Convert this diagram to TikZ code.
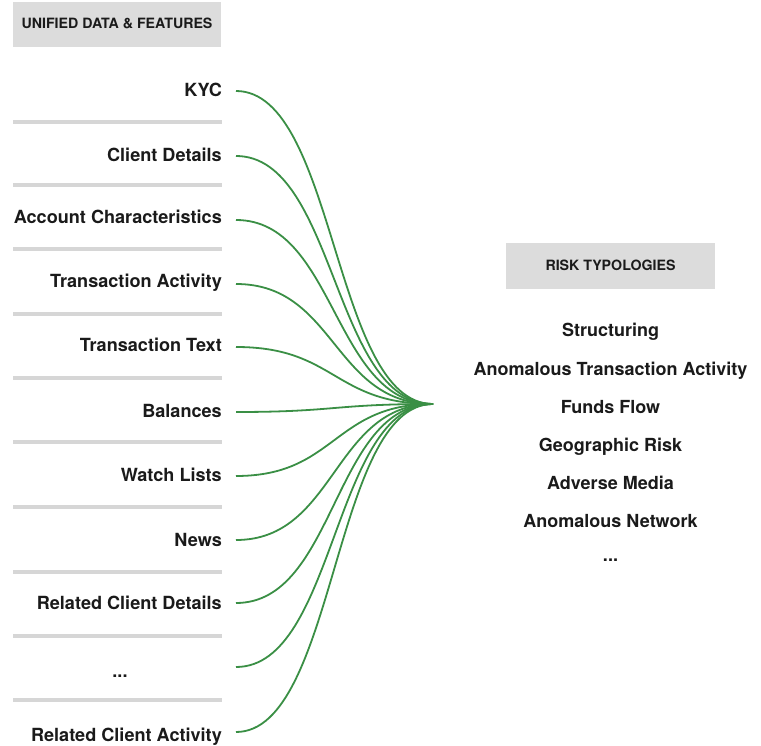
\documentclass[tikz,border=0pt]{standalone}
\usepackage{fontspec}
\setmainfont{TeX Gyre Heros}
\begin{document}
\begin{tikzpicture}[x=1pt,y=-1pt,
  hdrbox/.style={fill=hdrgray,draw=none},
  hdrtext/.style={font=\bfseries\fontsize{14.2}{16}\selectfont,text=txt,inner sep=0pt,anchor=base},
  lbl/.style={font=\bfseries\fontsize{18.1}{20}\selectfont,text=txt,inner sep=0pt,anchor=base east},
  rlbl/.style={font=\bfseries\fontsize{18}{20}\selectfont,text=txt,inner sep=0pt,anchor=base},
  sepline/.style={draw=sepgray,line width=3.5pt},
  conn/.style={draw=conngreen,line width=1.8pt}]
\definecolor{hdrgray}{RGB}{220,220,220}
\definecolor{sepgray}{RGB}{214,214,214}
\definecolor{txt}{RGB}{26,26,26}
\definecolor{conngreen}{RGB}{58,143,69}
\useasboundingbox (0,0) rectangle (761,746);
% header boxes
\fill[hdrbox] (13,2) rectangle (221,47);
\node[hdrtext] (hL) at (117,29) {UNIFIED DATA \& FEATURES};
\fill[hdrbox] (506,243) rectangle (715,289);
\node[hdrtext] (hR) at (610.5,271) {RISK TYPOLOGIES};
% separators
\foreach \y in {122,185,249,314,378,442,507,572,636,700}
  \draw[sepline] (13,\y) -- (222,\y);
% left labels
\node[lbl] (l1) at (222,97) {KYC};
\node[lbl] (l2) at (222,162) {Client Details};
\node[lbl] (l3) at (222,224) {Account Characteristics};
\node[lbl] (l4) at (222,288) {Transaction Activity};
\node[lbl] (l5) at (222,352) {Transaction Text};
\node[lbl] (l6) at (222,417) {Balances};
\node[lbl] (l7) at (222,481) {Watch Lists};
\node[lbl] (l8) at (222,546) {News};
\node[lbl] (l9) at (222,609) {Related Client Details};
\node[rlbl] (l10) at (120,677) {...};
\node[lbl] (l11) at (222,741) {Related Client Activity};
% connector starts and hub
\coordinate (h) at (433,404);
\coordinate (s1) at (236,91);
\coordinate (s2) at (236,156);
\coordinate (s3) at (236,220);
\coordinate (s4) at (236,284);
\coordinate (s5) at (236,347);
\coordinate (s6) at (236,412);
\coordinate (s7) at (236,476);
\coordinate (s8) at (236,540);
\coordinate (s9) at (236,603);
\coordinate (s10) at (236,667);
\coordinate (s11) at (236,732);
\foreach \i in {1,...,11}
  \draw[conn] (s\i) .. controls +(100,0) and +(-100,0) .. (h);
% right labels
\node[rlbl] (r1) at (610.5,337) {Structuring};
\node[rlbl] (r2) at (610.5,375) {Anomalous Transaction Activity};
\node[rlbl] (r3) at (610.5,413) {Funds Flow};
\node[rlbl] (r4) at (610.5,451) {Geographic Risk};
\node[rlbl] (r5) at (610.5,489) {Adverse Media};
\node[rlbl] (r6) at (610.5,527) {Anomalous Network};
\node[rlbl] (r7) at (610.5,561) {...};
\end{tikzpicture}
\end{document}
